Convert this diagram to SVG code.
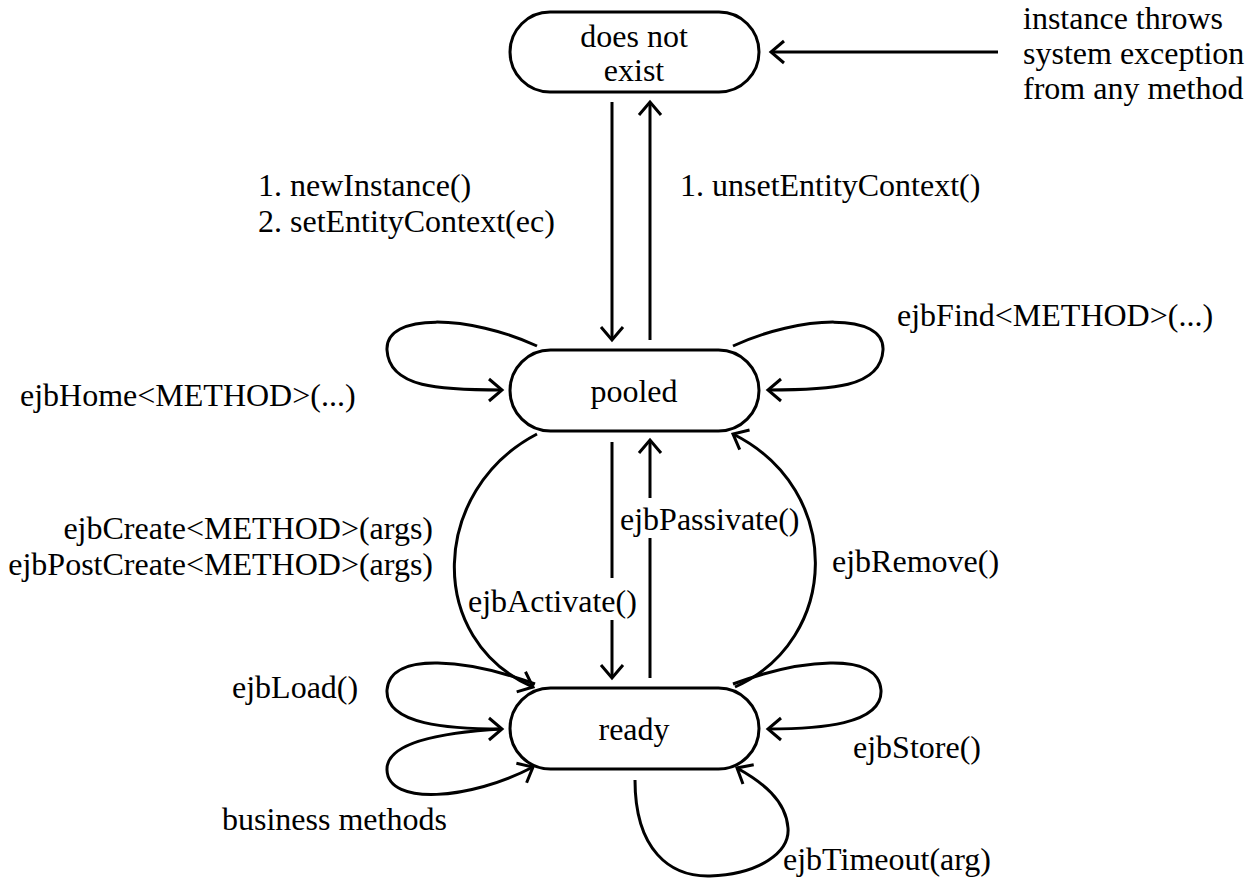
<svg xmlns="http://www.w3.org/2000/svg" width="1255" height="880" viewBox="0 0 1255 880">
<style>
.node{fill:#fff;stroke:#000;stroke-width:3}
.edge{fill:none;stroke:#000;stroke-width:3}
text{font-family:'Liberation Serif','Times New Roman',serif;font-size:32px;fill:#000}
.c{text-anchor:middle}
.r{text-anchor:end}
</style>
<defs>
<marker id="arr" viewBox="-16 -14 22 28" refX="0" refY="0" markerWidth="22" markerHeight="28" markerUnits="userSpaceOnUse" orient="auto" overflow="visible">
<path d="M-13,-11 L0,0 L-13,11" fill="none" stroke="#000" stroke-width="3"/>
</marker>
</defs>
<rect width="1255" height="880" fill="#fff"/>
<g id="connectors">
<path class="edge" d="M998,52 L771,52" marker-end="url(#arr)"/>
<path class="edge" d="M612,102 L612,340" marker-end="url(#arr)"/>
<path class="edge" d="M650,340 L650,102" marker-end="url(#arr)"/>
<path class="edge" d="M612,442 L612,578"/>
<path class="edge" d="M612,620 L612,678" marker-end="url(#arr)"/>
<path class="edge" d="M650,678 L650,538"/>
<path class="edge" d="M650,498 L650,440" marker-end="url(#arr)"/>
<path class="edge" d="M537,346 C470,315 385,312 387,350 C389,388 440,390 502,390" marker-end="url(#arr)"/>
<path class="edge" d="M733,346 C800,315 885,312 883,350 C881,388 830,390 768,390" marker-end="url(#arr)"/>
<path class="edge" d="M537,434 C430,490 425,640 533,687" marker-end="url(#arr)"/>
<path class="edge" d="M735,687 C840,640 845,490 733,434" marker-end="url(#arr)"/>
<path class="edge" d="M535,684 C470,660 390,650 387,690 C385,725 450,729 502,729" marker-end="url(#arr)"/>
<path class="edge" d="M502,729 C430,733 386,745 387,770 C388,806 470,800 533,767" marker-end="url(#arr)"/>
<path class="edge" d="M733,684 C798,660 878,650 881,690 C883,725 818,729 768,729" marker-end="url(#arr)"/>
<path class="edge" d="M635,780 C635,850 670,877 710,876 C760,874 790,852 788,828 C786,800 762,782 737,768" marker-end="url(#arr)"/>
</g>
<g id="node-does-not-exist">
<rect class="node" x="510" y="12" width="249" height="80" rx="40" ry="40"/>
<text class="c" x="634" y="47">does not</text>
<text class="c" x="634" y="81">exist</text>
</g>
<g id="node-pooled">
<rect class="node" x="510" y="350" width="249" height="81" rx="40.5" ry="40.5"/>
<text class="c" x="634" y="402">pooled</text>
</g>
<g id="node-ready">
<rect class="node" x="510" y="688" width="249" height="81" rx="40.5" ry="40.5"/>
<text class="c" x="634" y="740">ready</text>
</g>
<g id="labels">
<text x="1023" y="29">instance throws</text>
<text x="1023" y="64">system exception</text>
<text x="1023" y="99">from any method</text>
<text x="258" y="196">1. newInstance()</text>
<text x="258" y="232">2. setEntityContext(ec)</text>
<text x="680" y="196">1. unsetEntityContext()</text>
<text x="897" y="326">ejbFind&lt;METHOD&gt;(...)</text>
<text x="20" y="406">ejbHome&lt;METHOD&gt;(...)</text>
<text class="r" x="433" y="539">ejbCreate&lt;METHOD&gt;(args)</text>
<text class="r" x="433" y="575">ejbPostCreate&lt;METHOD&gt;(args)</text>
<text x="620" y="530">ejbPassivate()</text>
<text x="832" y="572">ejbRemove()</text>
<text x="468" y="612">ejbActivate()</text>
<text x="232" y="698">ejbLoad()</text>
<text x="222" y="830">business methods</text>
<text x="853" y="758">ejbStore()</text>
<text x="783" y="870">ejbTimeout(arg)</text>
</g>
</svg>
